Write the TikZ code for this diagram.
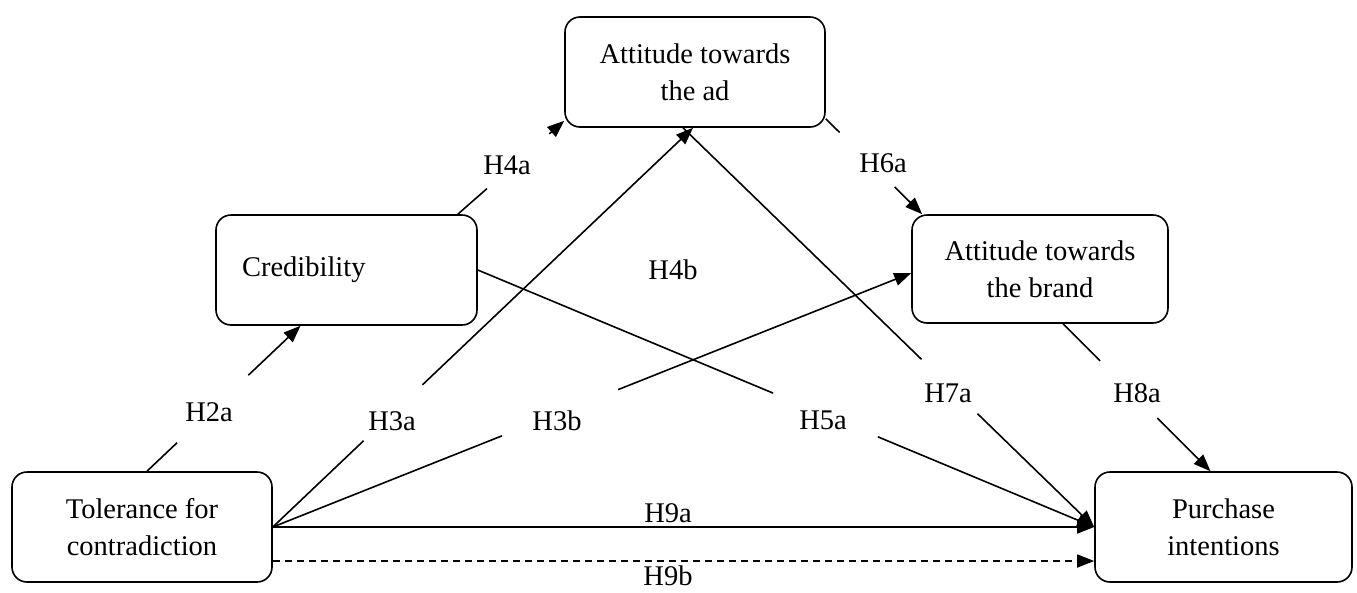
\documentclass[tikz,border=0pt]{standalone}
\usepackage{fontspec}
\setmainfont{Liberation Serif}
\usetikzlibrary{arrows.meta,calc}
\begin{document}
\begin{tikzpicture}[x=1pt,y=-1pt,
  box/.style={draw, line width=1.6pt, rounded corners=15pt, align=center,
    font=\fontsize{28.5}{37}\selectfont, inner sep=0pt},
  lab/.style={font=\fontsize{28.5}{37}\selectfont, inner sep=0pt},
  conn/.style={line width=1.6pt},
  arr/.style={conn, -{Triangle[length=17pt,width=13pt]}}]
\useasboundingbox (0,0) rectangle (1357,592);

% boxes
\node[box, minimum width=260pt, minimum height=110pt] (ad) at (695,72) {Attitude towards\\the ad};
\node[box, minimum width=261pt, minimum height=110pt, text width=209pt, align=left] (cred) at (346.5,270) {Credibility};
\node[box, minimum width=256pt, minimum height=108pt] (brand) at (1040,269) {Attitude towards\\the brand};
\node[box, minimum width=260pt, minimum height=110pt] (tol) at (142,527) {Tolerance for\\contradiction};
\node[box, minimum width=257pt, minimum height=110pt] (pur) at (1223.5,527) {Purchase\\intentions};

% connector end points
\coordinate (h2s) at ([xshift=5pt]tol.north);
\coordinate (h2e) at ([xshift=-46pt]cred.south);
\coordinate (h4s) at ([xshift=-20pt]cred.north east);
\coordinate (h4e) at ([yshift=7pt]ad.south west);
\coordinate (h6s) at ([yshift=9pt]ad.south east);
\coordinate (h6e) at ([xshift=11pt]brand.north west);
\coordinate (h8s) at ([xshift=23pt]brand.south);
\coordinate (h8e) at ([xshift=-13pt]pur.north);
\coordinate (h3ae) at ([xshift=-2pt]ad.south);
\coordinate (h3be) at ([yshift=-4pt]brand.west);
\coordinate (h7s) at ([xshift=-12pt]ad.south);
\coordinate (h9bs) at ([yshift=-34pt]tol.east);
\coordinate (h9be) at ([yshift=-34pt]pur.west);

% broken connectors
\draw[conn] (h2s) -- ($(h2s)!0.196!(h2e)$);
\draw[arr] ($(h2s)!0.66!(h2e)$) -- (h2e);

\draw[conn] (h4s) -- ($(h4s)!0.274!(h4e)$);
\draw[arr] ($(h4s)!0.86!(h4e)$) -- (h4e);

\draw[conn] (h6s) -- ($(h6s)!0.143!(h6e)$);
\draw[arr] ($(h6s)!0.714!(h6e)$) -- (h6e);

\draw[conn] (h8s) -- ($(h8s)!0.252!(h8e)$);
\draw[arr] ($(h8s)!0.639!(h8e)$) -- (h8e);

\draw[conn] (tol.east) -- ($(tol.east)!0.216!(h3ae)$);
\draw[arr] ($(tol.east)!0.356!(h3ae)$) -- (h3ae);

\draw[conn] (tol.east) -- ($(tol.east)!0.359!(h3be)$);
\draw[arr] ($(tol.east)!0.541!(h3be)$) -- (h3be);

\draw[conn] (cred.east) -- ($(cred.east)!0.479!(pur.west)$);
\draw[arr] ($(cred.east)!0.649!(pur.west)$) -- (pur.west);

\draw[conn] (h7s) -- ($(h7s)!0.58!(pur.west)$);
\draw[arr] ($(h7s)!0.716!(pur.west)$) -- (pur.west);

\draw[arr] (tol.east) -- (pur.west);
\draw[arr, dash pattern=on 7pt off 5pt] (h9bs) -- (h9be);

% labels
\node[lab] (l2a) at (209,412) {H2a};
\node[lab] (l4a) at (507,165) {H4a};
\node[lab] (l6a) at (883,163) {H6a};
\node[lab] (l8a) at (1137,393) {H8a};
\node[lab] (l3a) at (392,421) {H3a};
\node[lab] (l3b) at (557,421) {H3b};
\node[lab] (l5a) at (823,420) {H5a};
\node[lab] (l7a) at (948,393) {H7a};
\node[lab] (l4b) at (673,270) {H4b};
\node[lab] (l9a) at (668,513) {H9a};
\node[lab] (l9b) at (668,576) {H9b};
\end{tikzpicture}
\end{document}
